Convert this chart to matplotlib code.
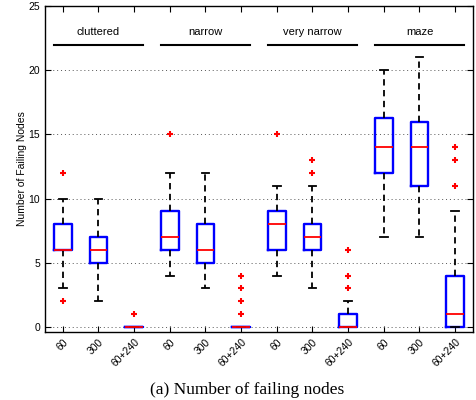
import matplotlib
matplotlib.use("Agg")
import matplotlib.pyplot as plt

groups = ["cluttered", "narrow", "very narrow", "maze"]
conditions = ["60", "300", "60+240"]
tick_labels = conditions * 4

# box statistics per box: (whislo, q1, med, q3, whishi, outliers)
whislo = [3, 2, 0, 4, 3, 0, 4, 3, 0, 7, 7, 0]
q1     = [6, 5, 0, 6, 5, 0, 6, 6, 0, 12, 11, 0]
med    = [6, 6, 0, 7, 6, 0, 8, 7, 0, 14, 14, 1]
q3     = [8, 7, 0, 9, 8, 0, 9, 8, 1, 16.3, 16, 4]
whishi = [10, 10, 0, 12, 12, 0, 11, 11, 2, 20, 21, 9]
fliers = [[12, 2], [], [1], [15], [], [1, 2, 3, 4],
          [15], [12, 13], [3, 4, 6], [], [], [11, 13, 14]]

plt.rcParams['font.family'] = ['Liberation Sans', 'DejaVu Sans']

fig = plt.figure(figsize=(4.77, 4.00), dpi=100)
ax = fig.add_axes([45/477, 68/400, 428/477, 326/400])

stats = []
for i in range(len(med)):
    stats.append(dict(whislo=whislo[i], q1=q1[i], med=med[i], q3=q3[i],
                      whishi=whishi[i], fliers=fliers[i]))

positions = list(range(1, len(med) + 1))
ax.bxp(stats, positions=positions, widths=0.5, showfliers=True,
       boxprops=dict(color='#0000ff', linewidth=1.7),
       medianprops=dict(color='#ff0000', linewidth=1.3),
       whiskerprops=dict(color='black', linewidth=1.3, linestyle=(0, (3.5, 2.5))),
       capprops=dict(color='black', linewidth=1.3),
       capwidths=0.22,
       flierprops=dict(marker='+', markeredgecolor='#ff0000', markersize=5,
                       markeredgewidth=1.5, linestyle='none'))

ax.set_xlim(0.5, 12.5)
ax.set_ylim(-0.4, 25)
ax.set_yticks([0, 5, 10, 15, 20, 25])
ax.set_xticks(positions)
ax.set_xticklabels(tick_labels, rotation=45, ha='right', rotation_mode='anchor',
                   fontsize=7.5)
ax.tick_params(axis='y', labelsize=7.5)
ax.tick_params(direction='in', top=True, right=True, length=4, width=0.8)
for s in ax.spines.values():
    s.set_linewidth(1.0)
ax.yaxis.grid(True, linestyle=(0, (1, 3)), color='#555555', linewidth=0.7)
ax.set_axisbelow(True)
ax.set_ylabel("Number of Failing Nodes", fontsize=7.5, labelpad=1)

for g, name in enumerate(groups):
    x0 = g * 3 + 0.75
    x1 = g * 3 + 3.25
    ax.plot([x0, x1], [22, 22], color='black', linewidth=1.5)
    ax.text((x0 + x1) / 2, 23.0, name, ha='center', va='center', fontsize=8)

fig.text(247/477, 1 - 390/400, "(a) Number of failing nodes", ha='center',
         va='center', fontsize=12.5, family=['Liberation Serif', 'DejaVu Serif'])

fig.savefig("out.png", dpi=100)
